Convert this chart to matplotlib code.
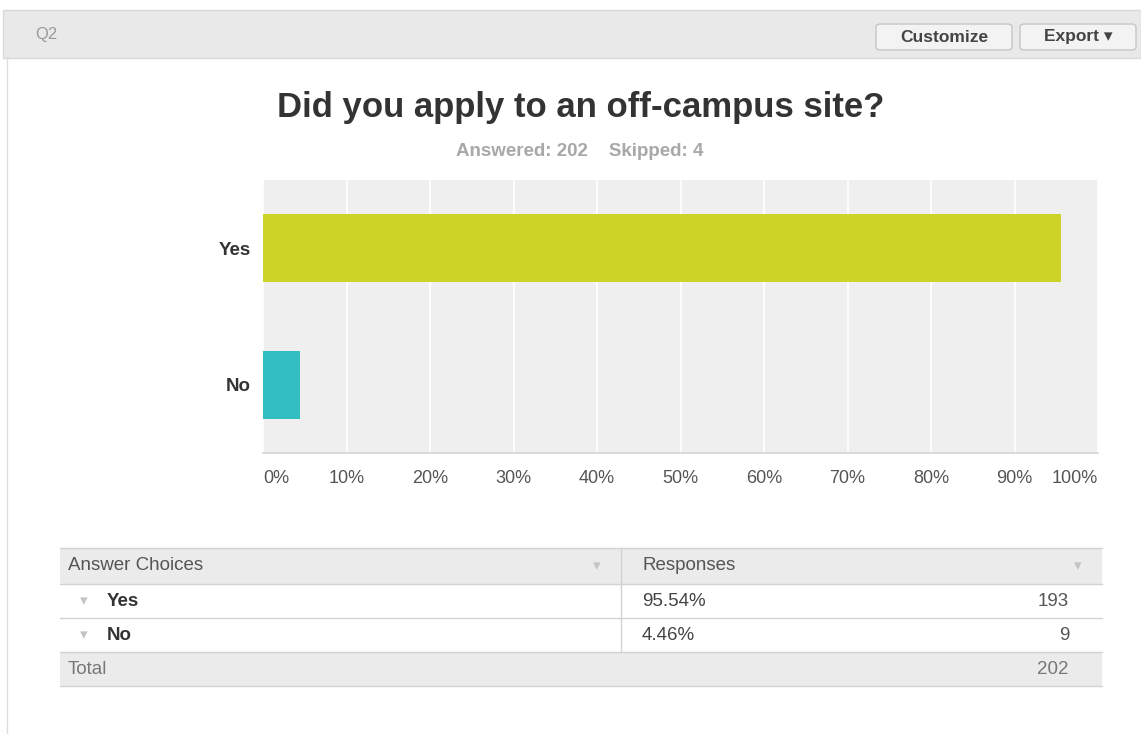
import matplotlib
matplotlib.use("Agg")
import matplotlib.pyplot as plt
from matplotlib.patches import Rectangle, FancyBboxPatch
from matplotlib.lines import Line2D

plt.rcParams['font.family'] = ['Liberation Sans', 'DejaVu Sans']

# Survey data
question = "Did you apply to an off-campus site?"
question_id = "Q2"
categories = ["Yes", "No"]
percents = [95.54, 4.46]
counts = [193, 9]
answered = 202
skipped = 4
bar_colors = ["#cdd427", "#33bfc2"]
x_ticks = [0, 10, 20, 30, 40, 50, 60, 70, 80, 90, 100]

W, H = 1141, 734
fig = plt.figure(figsize=(W / 100, H / 100), dpi=100)
fig.patch.set_facecolor("white")


def fx(x):
    return x / W


def fy(y):
    return 1 - y / H


def rect(x0, y0, x1, y1, **kw):
    fig.patches.append(Rectangle((fx(x0), fy(y1)), fx(x1) - fx(x0), fy(y0) - fy(y1),
                                 transform=fig.transFigure, **kw))


def hline(x0, x1, y, color="#d6d6d6", lw=1.0):
    fig.lines.append(Line2D([fx(x0), fx(x1)], [fy(y), fy(y)], transform=fig.transFigure,
                            color=color, lw=lw))


def vline(x, y0, y1, color="#d6d6d6", lw=1.0):
    fig.lines.append(Line2D([fx(x), fx(x)], [fy(y0), fy(y1)], transform=fig.transFigure,
                            color=color, lw=lw))


def text(x, y, s, **kw):
    fig.text(fx(x), fy(y), s, **kw)


# Panel frame and header bar
vline(7, 58, 734, color="#dddddd")
rect(3, 10, 1141, 58, facecolor="#e9e9e9", edgecolor="#d9d9d9", lw=1.0)
text(35, 35, question_id, fontsize=12, color="#9a9a9a", va="center", ha="left")

for (x0, x1, label) in [(876, 1012, "Customize"), (1020, 1136, "Export \u25be")]:
    fig.patches.append(FancyBboxPatch((fx(x0), fy(50)), fx(x1) - fx(x0), fy(24) - fy(50),
                                      boxstyle="round,pad=0,rounding_size=0.004",
                                      transform=fig.transFigure, facecolor="#f3f3f3",
                                      edgecolor="#c6c6c6", lw=1.0))
    text((x0 + x1) / 2, 37, label, fontsize=12.5, fontweight="bold", color="#444444",
         ha="center", va="center")

# Title and response summary
text(581, 107, question, fontsize=25, fontweight="bold", color="#333333",
     ha="center", va="center")
text(580, 151, f"Answered: {answered}    Skipped: {skipped}", fontsize=13.5,
     fontweight="bold", color="#a8a8a8", ha="center", va="center")

# Bar chart
ax = fig.add_axes([fx(263), fy(453), fx(1098) - fx(263), fy(180) - fy(453)])
ax.set_facecolor("#efefef")
ypos = list(range(len(categories)))
ax.barh(ypos, percents, height=0.5, color=bar_colors, zorder=3)
ax.set_xlim(0, 100)
ax.set_ylim(len(categories) - 0.5, -0.5)
ax.set_xticks(x_ticks)
ax.grid(axis="x", color="white", lw=1.2, zorder=1)
ax.set_axisbelow(True)
for s in ["top", "right", "left"]:
    ax.spines[s].set_visible(False)
ax.spines["bottom"].set_color("#d4d4d4")
ax.spines["bottom"].set_linewidth(1.2)
ax.tick_params(axis="both", length=0)
ax.set_xticklabels([])
ax.set_yticks(ypos)
ax.set_yticklabels(categories, fontsize=13.5, fontweight="bold", color="#333333")
ax.tick_params(axis="y", pad=9)
for t in x_ticks:
    ha = "left" if t == 0 else ("right" if t == 100 else "center")
    ax.text(t, -0.092, f"{t}%", transform=ax.get_xaxis_transform(), ha=ha, va="center",
            fontsize=13, color="#555555")

# Summary table
tx0, tx1, tdiv = 60, 1102, 621
rows_y = [548, 584, 618, 652, 686]
rect(tx0, rows_y[0], tx1, rows_y[1], facecolor="#ebebeb", edgecolor="none")
rect(tx0, rows_y[3], tx1, rows_y[4], facecolor="#ebebeb", edgecolor="none")
for y in rows_y:
    hline(tx0, tx1, y, color="#d2d2d2")
vline(tdiv, rows_y[0], rows_y[3], color="#d2d2d2")

fs = 13.5
hy = (rows_y[0] + rows_y[1]) / 2
text(68, hy, "Answer Choices", fontsize=fs, color="#555555", va="center")
text(597, hy, "\u25be", fontsize=11, color="#c4c4c4", ha="center", va="center")
text(642, hy, "Responses", fontsize=fs, color="#555555", va="center")
text(1078, hy, "\u25be", fontsize=11, color="#c4c4c4", ha="center", va="center")

for i, (cat, pct, cnt) in enumerate(zip(categories, percents, counts)):
    cy = (rows_y[i + 1] + rows_y[i + 2]) / 2
    text(84, cy, "\u25be", fontsize=11, color="#c4c4c4", ha="center", va="center")
    text(107, cy, cat, fontsize=fs, fontweight="bold", color="#333333", va="center")
    text(642, cy, f"{pct:.2f}%", fontsize=fs, color="#444444", va="center")
    text(1069, cy, f"{cnt}", fontsize=fs, color="#555555", ha="right", va="center")

ty = (rows_y[3] + rows_y[4]) / 2
text(68, ty, "Total", fontsize=fs, color="#777777", va="center")
text(1069, ty, f"{sum(counts)}", fontsize=fs, color="#777777", ha="right", va="center")

fig.savefig("out.png", dpi=100)
